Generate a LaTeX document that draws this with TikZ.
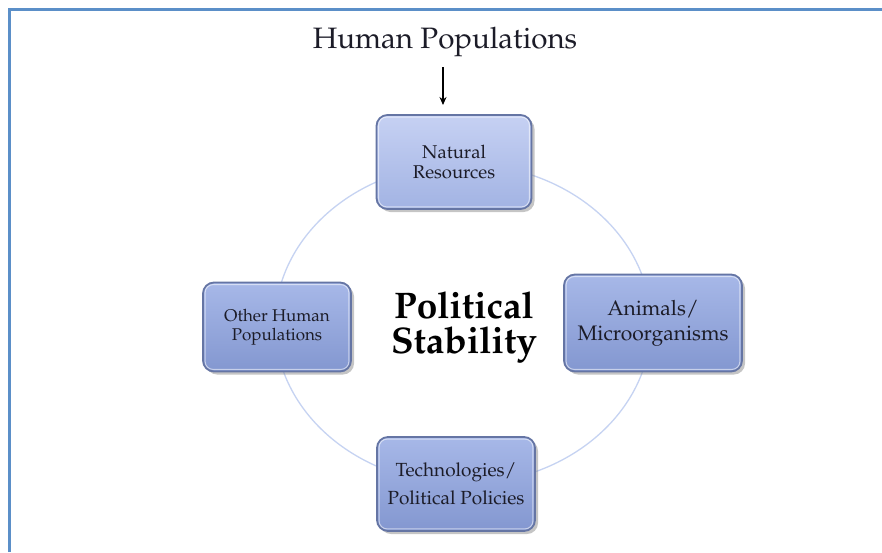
\documentclass[tikz,border=0pt]{standalone}
\usepackage[T1]{fontenc}
\usepackage{mathpazo}
\usetikzlibrary{shadows,arrows.meta}
\definecolor{frameblue}{HTML}{5B8FC8}
\definecolor{ringblue}{HTML}{C6D3F2}
\definecolor{boxedge}{HTML}{6575A4}
\definecolor{boxtopA}{HTML}{C6D1F3}
\definecolor{boxbotA}{HTML}{A2B3E3}
\definecolor{boxtopB}{HTML}{A7B8E8}
\definecolor{boxbotB}{HTML}{8397D0}
\definecolor{boxtext}{HTML}{1C1C28}
\tikzset{
  panel/.style={rounded corners=11pt, draw=boxedge, line width=1.8pt,
    top color=boxtopB, bottom color=boxbotB, text=boxtext, align=center,
    inner sep=0pt,
    drop shadow={opacity=0.45, shadow xshift=3pt, shadow yshift=-3pt}},
  lightpanel/.style={panel, top color=boxtopA, bottom color=boxbotA},
  inset/.style={draw=white, draw opacity=0.55, line width=1pt, rounded corners=8pt}
}
\begin{document}
\begin{tikzpicture}[x=1pt,y=-1pt]
\useasboundingbox (0,0) rectangle (882,552);
\fill[white] (0,0) rectangle (882,552);
% frame
\coordinate (fbl) at (9.5,552);
\coordinate (ftl) at (9.5,9.5);
\coordinate (ftr) at (882,9.5);
\draw[frameblue, line width=3pt] (fbl) -- (ftl) -- (ftr);
% ring
\coordinate (ringc) at (463,324);
\draw[ringblue, line width=1.3pt] (ringc) ellipse [x radius=188pt, y radius=160pt];
% title
\node[text=boxtext, font=\fontsize{29.5}{34}\selectfont] (title) at (445,42) {Human Populations};
\coordinate (arrtop) at (443,67);
\coordinate (arrtip) at (443,105);
\draw[line width=1.4pt, -{Stealth[length=8pt,width=7pt]}] (arrtop) -- (arrtip);
% boxes
\node[lightpanel, minimum width=155pt, minimum height=94pt,
      font=\fontsize{18.5}{19.5}\selectfont] (nr) at (454,162) {Natural\\Resources};
\node[panel, minimum width=178pt, minimum height=97pt,
      font=\fontsize{21}{25}\selectfont] (am) at (653,323) {Animals/\\Microorganisms};
\node[panel, minimum width=148pt, minimum height=89pt,
      font=\fontsize{17}{18.5}\selectfont] (oh) at (277,327) {Other Human\\Populations};
\node[panel, minimum width=158pt, minimum height=94pt,
      font=\fontsize{19}{28}\selectfont] (tp) at (456,484) {Technologies/\\Political Policies};
\foreach \n in {nr,am,oh,tp}
  \draw[inset] ([shift={(3pt,-3pt)}]\n.north west) rectangle ([shift={(-3pt,3pt)}]\n.south east);
% centre text
\node[text=black, align=center, font=\fontsize{37}{35}\bfseries\selectfont] (ps) at (464,327) {Political\\Stability};
\end{tikzpicture}
\end{document}
